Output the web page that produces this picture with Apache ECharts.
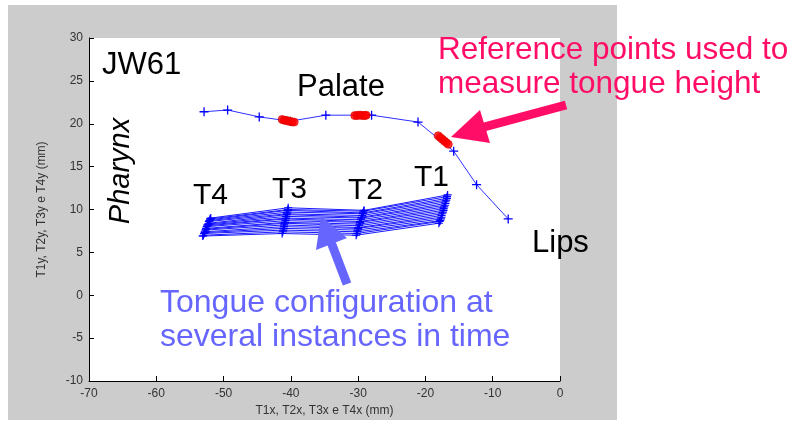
<!DOCTYPE html>
<html>
<head>
<meta charset="utf-8">
<script src="https://cdn.jsdelivr.net/npm/echarts@6/dist/echarts.min.js"></script>
<style>
html,body{margin:0;padding:0;background:#fff;}
#main{width:798px;height:422px;}
</style>
</head>
<body>
<div id="main"></div>
<script>
// Palate contour (blue line with + markers)
var palateX = [-52.9, -49.4, -44.7, -40.1, -34.8, -28.0, -21.1, -15.8, -12.4, -7.7];
var palateY = [21.4, 21.6, 20.8, 20.3, 21.0, 21.0, 20.2, 16.8, 12.9, 8.9];

// Reference points (red circles)
var refX = [-41.3, -41.0, -40.7, -40.4, -40.1, -39.8, -39.5,
            -30.5, -30.2, -29.9, -29.6, -29.3, -29.0, -28.8,
            -18.1, -17.8, -17.5, -17.2, -16.9, -16.6];
var refY = [20.5, 20.4, 20.4, 20.3, 20.3, 20.2, 20.2,
            20.95, 20.95, 21.0, 21.0, 20.95, 20.95, 21.0,
            18.6, 18.4, 18.2, 18.0, 17.8, 17.6];

// Tongue points at several instances in time
var T1x = [-16.7, -16.8, -16.8, -16.9, -17.0, -17.0, -17.1, -17.2, -17.3, -17.3, -17.4, -17.5, -17.6, -17.6, -17.7, -17.8, -17.9, -18.0];
var T1y = [11.7, 11.5, 11.3, 11.1, 10.9, 10.7, 10.5, 10.3, 10.1, 9.9, 9.7, 9.5, 9.3, 9.1, 8.9, 8.7, 8.6, 8.4];
var T2x = [-29.1, -29.2, -29.3, -29.3, -29.4, -29.5, -29.5, -29.6, -29.7, -29.7, -29.8, -29.9, -29.9, -30.0, -30.1, -30.1, -30.2, -30.3];
var T2y = [9.9, 9.8, 9.6, 9.5, 9.3, 9.1, 9.0, 8.8, 8.6, 8.5, 8.3, 8.1, 7.9, 7.8, 7.6, 7.4, 7.2, 7.0];
var T3x = [-40.4, -40.4, -40.5, -40.5, -40.6, -40.6, -40.7, -40.7, -40.8, -40.8, -40.9, -40.9, -41.0, -41.0, -41.1, -41.1, -41.2, -41.3];
var T3y = [10.2, 10.0, 9.9, 9.7, 9.5, 9.4, 9.2, 9.0, 8.9, 8.7, 8.5, 8.4, 8.2, 8.0, 7.8, 7.6, 7.4, 7.2];
var T4x = [-51.9, -52.0, -52.0, -52.1, -52.2, -52.2, -52.3, -52.4, -52.4, -52.5, -52.6, -52.6, -52.7, -52.8, -52.8, -52.9, -53.0, -53.1];
var T4y = [9.0, 8.9, 8.8, 8.7, 8.6, 8.4, 8.3, 8.2, 8.1, 8.0, 7.8, 7.7, 7.6, 7.4, 7.3, 7.2, 7.0, 6.9];

var xTicks = {min: -70, max: 0, interval: 10};
var yTicks = {min: -10, max: 30, interval: 5};

var FONT = '"Liberation Sans", Arial, sans-serif';
var PLUS = 'path://M0,3H3V0H4V3H7V4H4V7H3V4H0Z';

var chart = echarts.init(document.getElementById('main'), null, {renderer: 'canvas'});

var series = [];
for (var i = 0; i < T1x.length; i++) {
  series.push({
    type: 'line',
    data: [[T4x[i], T4y[i]], [T3x[i], T3y[i]], [T2x[i], T2y[i]], [T1x[i], T1y[i]]],
    symbol: PLUS, symbolSize: 8, showSymbol: true,
    lineStyle: {color: '#1a1aff', width: 1},
    itemStyle: {color: '#0000ff'},
    silent: true, animation: false, z: 3
  });
}
series.push({
  type: 'line',
  data: palateX.map(function (x, k) { return [x, palateY[k]]; }),
  symbol: PLUS, symbolSize: 9, showSymbol: true,
  lineStyle: {color: '#3030ff', width: 1},
  itemStyle: {color: '#0000ff'},
  silent: true, animation: false, z: 3
});
series.push({
  type: 'scatter',
  data: refX.map(function (x, k) { return [x, refY[k]]; }),
  symbol: 'circle', symbolSize: 8,
  itemStyle: {color: '#ff0000', borderColor: '#e00000', borderWidth: 0.8},
  silent: true, animation: false, z: 4
});

function txt(s, x, y, color, size, extra) {
  var o = {type: 'text', x: x, y: y, z: 100, silent: true,
    style: {text: s, fill: color, font: (extra && extra.italic ? 'italic ' : '') + size + 'px ' + FONT,
      textAlign: (extra && extra.align) || 'left', textVerticalAlign: 'middle'}};
  if (extra && extra.rotation) { o.rotation = extra.rotation; }
  return o;
}

var pink = '#ff0d66';
var lblue = '#6666ff';

var option = {
  backgroundColor: '#ffffff',
  animation: false,
  grid: {left: 89, top: 38, right: 238, bottom: 41, containLabel: false},
  xAxis: {
    type: 'value', min: xTicks.min, max: xTicks.max, interval: xTicks.interval,
    name: 'T1x, T2x, T3x e T4x (mm)', nameLocation: 'middle', nameGap: 24,
    nameTextStyle: {color: '#333', fontSize: 12, fontFamily: FONT},
    axisLine: {onZero: false, lineStyle: {color: '#000', width: 1}},
    axisTick: {inside: true, length: 5, lineStyle: {color: '#000'}},
    axisLabel: {color: '#333', fontSize: 12, fontFamily: FONT, margin: 7},
    splitLine: {show: false}
  },
  yAxis: {
    type: 'value', min: yTicks.min, max: yTicks.max, interval: yTicks.interval,
    name: 'T1y, T2y, T3y e T4y (mm)', nameLocation: 'middle', nameGap: 41,
    nameTextStyle: {color: '#333', fontSize: 12, fontFamily: FONT},
    axisLine: {onZero: false, lineStyle: {color: '#000', width: 1}},
    axisTick: {inside: true, length: 5, lineStyle: {color: '#000'}},
    axisLabel: {color: '#333', fontSize: 12, fontFamily: FONT, margin: 6},
    splitLine: {show: false}
  },
  graphic: [
    {type: 'rect', shape: {x: 8, y: 5, width: 609, height: 415}, style: {fill: '#cccccc'}, z: -20, silent: true},
    {type: 'rect', shape: {x: 89, y: 38, width: 471, height: 343}, style: {fill: '#ffffff'}, z: -19, silent: true},
    txt('JW61', 102, 65, '#000', 31),
    txt('Palate', 297, 87, '#000', 31),
    txt('Pharynx', 121, 171, '#000', 29, {italic: true, align: 'center', rotation: Math.PI / 2}),
    txt('T4', 193, 196, '#000', 30),
    txt('T3', 272, 190, '#000', 30),
    txt('T2', 348, 191, '#000', 30),
    txt('T1', 414, 178, '#000', 30),
    txt('Lips', 532, 243, '#000', 31),
    txt('Reference points used to', 438, 50, pink, 31.5),
    txt('measure tongue height', 438, 84, pink, 31.5),
    txt('Tongue configuration at', 160, 303, lblue, 32),
    txt('several instances in time', 160, 337, lblue, 32),
    // pink arrow
    {type: 'line', shape: {x1: 566, y1: 105, x2: 484, y2: 127}, style: {stroke: pink, lineWidth: 9}, z: 90, silent: true},
    {type: 'polygon', shape: {points: [[451, 137], [480, 110], [490, 143]]}, style: {fill: pink}, z: 90, silent: true},
    // blue arrow
    {type: 'line', shape: {x1: 347, y1: 284, x2: 331, y2: 242}, style: {stroke: lblue, lineWidth: 9}, z: 90, silent: true},
    {type: 'polygon', shape: {points: [[321, 216], [347, 238], [316, 250]]}, style: {fill: lblue}, z: 90, silent: true}
  ],
  series: series
};
chart.setOption(option);
</script>
</body>
</html>
